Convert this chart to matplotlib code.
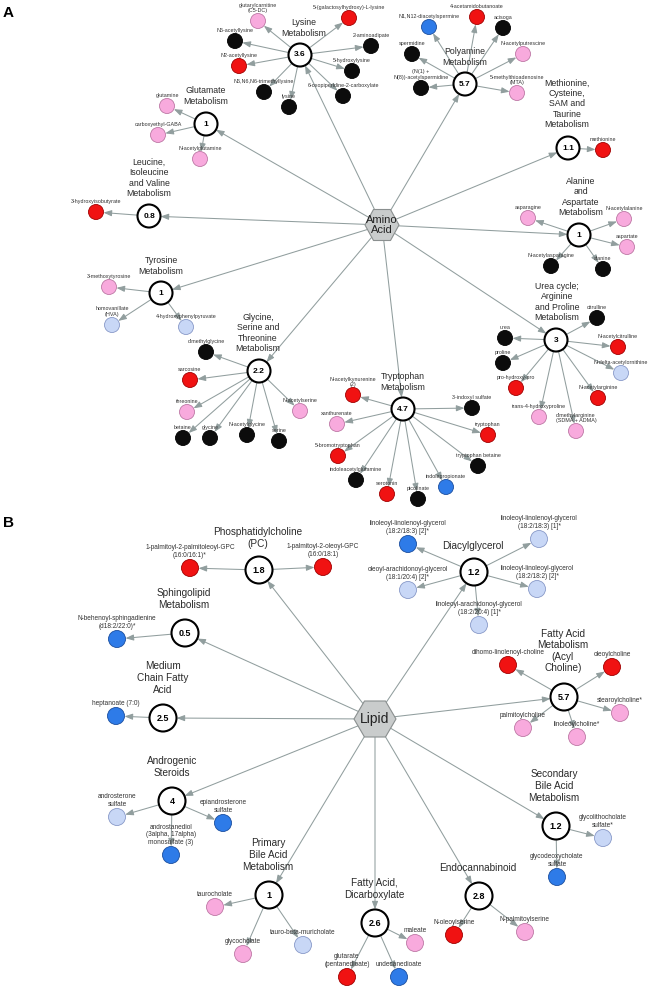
import matplotlib
matplotlib.use("Agg")
import matplotlib.pyplot as plt
from matplotlib.patches import Circle, Polygon, FancyArrowPatch

plt.rcParams["font.family"] = ["Liberation Sans", "DejaVu Sans"]

# ---------------------------------------------------------------- data ---
# Panel A: amino acid super-pathway
HUB_A = "Amino\nAcid"
PATHWAYS_A = [
    "Lysine\nMetabolism", "Polyamine\nMetabolism",
    "Methionine,\nCysteine,\nSAM and\nTaurine\nMetabolism",
    "Alanine\nand\nAspartate\nMetabolism",
    "Urea cycle;\nArginine\nand Proline\nMetabolism",
    "Tryptophan\nMetabolism",
    "Glycine,\nSerine and\nThreonine\nMetabolism",
    "Tyrosine\nMetabolism",
    "Leucine,\nIsoleucine\nand Valine\nMetabolism",
    "Glutamate\nMetabolism",
]
SCORES_A = [3.6, 5.7, 1.1, 1, 3, 4.7, 2.2, 1, 0.8, 1]
METABOLITES_A = [
    ["glutarylcarnitine\n(C5-DC)", "N6-acetyllysine", "N2-acetyllysine",
     "N6,N6,N6-trimethyllysine", "lysine", "5-(galactosylhydroxy)-L-lysine",
     "2-aminoadipate", "5-hydroxylysine", "6-oxopiperidine-2-carboxylate"],
    ["N1,N12-diacetylspermine", "4-acetamidobutanoate", "acisoga", "spermidine",
     "N-acetylputrescine", "(N(1) +\nN(8))-acetylspermidine",
     "5-methylthioadenosine\n(MTA)"],
    ["methionine"],
    ["asparagine", "N-acetylalanine", "aspartate", "N-acetylasparagine", "alanine"],
    ["citrulline", "urea", "N-acetylcitrulline", "proline", "N-delta-acetylornithine",
     "pro-hydroxy-pro", "N-acetylarginine", "trans-4-hydroxyproline",
     "dimethylarginine\n(SDMA + ADMA)"],
    ["N-acetylkynurenine\n(2)", "xanthurenate", "5-bromotryptophan",
     "indoleacetylglutamine", "serotonin", "picolinate", "indolepropionate",
     "tryptophan betaine", "tryptophan", "3-indoxyl sulfate"],
    ["dimethylglycine", "sarcosine", "threonine", "betaine", "glycine",
     "N-acetylglycine", "serine", "N-acetylserine"],
    ["3-methoxytyrosine", "homovanillate\n(HVA)", "4-hydroxyphenylpyruvate"],
    ["3-hydroxyisobutyrate"],
    ["glutamine", "carboxyethyl-GABA", "N-acetylglutamine"],
]
CLASSES_A = [
    ["pink", "black", "red", "black", "black", "red", "black", "black", "black"],
    ["blue", "red", "black", "black", "pink", "black", "pink"],
    ["red"],
    ["pink", "pink", "pink", "black", "black"],
    ["black", "black", "red", "black", "lblue", "red", "red", "pink", "pink"],
    ["red", "pink", "red", "black", "red", "black", "blue", "black", "red", "black"],
    ["black", "red", "pink", "black", "black", "black", "black", "pink"],
    ["pink", "lblue", "lblue"],
    ["red"],
    ["pink", "pink", "pink"],
]

# Panel B: lipid super-pathway
HUB_B = "Lipid"
PATHWAYS_B = [
    "Phosphatidylcholine\n(PC)", "Diacylglycerol",
    "Fatty Acid\nMetabolism\n(Acyl\nCholine)",
    "Secondary\nBile Acid\nMetabolism", "Endocannabinoid",
    "Fatty Acid,\nDicarboxylate", "Primary\nBile Acid\nMetabolism",
    "Androgenic\nSteroids", "Medium\nChain Fatty\nAcid",
    "Sphingolipid\nMetabolism",
]
SCORES_B = [1.8, 1.2, 5.7, 1.2, 2.8, 2.6, 1, 4, 2.5, 0.5]
METABOLITES_B = [
    ["1-palmitoyl-2-palmitoleoyl-GPC\n(16:0/16:1)*",
     "1-palmitoyl-2-oleoyl-GPC\n(16:0/18:1)"],
    ["linoleoyl-linolenoyl-glycerol\n(18:2/18:3) [2]*",
     "linoleoyl-linolenoyl-glycerol\n(18:2/18:3) [1]*",
     "oleoyl-arachidonoyl-glycerol\n(18:1/20:4) [2]*",
     "linoleoyl-linoleoyl-glycerol\n(18:2/18:2) [2]*",
     "linoleoyl-arachidonoyl-glycerol\n(18:2/20:4) [1]*"],
    ["dihomo-linolenoyl-choline", "oleoylcholine", "stearoylcholine*",
     "palmitoylcholine", "linoleoylcholine*"],
    ["glycolithocholate\nsulfate*", "glycodeoxycholate\nsulfate"],
    ["N-oleoylserine", "N-palmitoylserine"],
    ["maleate", "glutarate\n(pentanedioate)", "undecanedioate"],
    ["taurocholate", "glycocholate", "tauro-beta-muricholate"],
    ["androsterone\nsulfate", "epiandrosterone\nsulfate",
     "androstanediol\n(3alpha, 17alpha)\nmonosulfate (3)"],
    ["heptanoate (7:0)"],
    ["N-behenoyl-sphingadienine\n(d18:2/22:0)*"],
]
CLASSES_B = [
    ["red", "red"],
    ["blue", "lblue", "lblue", "lblue", "lblue"],
    ["red", "red", "pink", "pink", "pink"],
    ["lblue", "blue"],
    ["red", "pink"],
    ["pink", "red", "blue"],
    ["pink", "pink", "lblue"],
    ["lblue", "blue", "blue"],
    ["blue"],
    ["blue"],
]

# -------------------------------------------------------------- layout ---
HUB_XY_A = (382, 225)
PATH_XY_A = [(300, 55), (465, 84), (568, 148), (579, 235), (556, 340),
             (403, 409), (259, 371), (161, 293), (149, 216), (206, 124)]
LABEL_XY_A = [(304, 28), (465, 57), (567, 104), (581, 197), (557, 302),
              (403, 382), (258, 333), (161, 266), (149, 178), (206, 96)]
METAB_XY_A = [
    [(258, 21), (235, 41), (239, 66), (264, 92), (289, 107), (349, 18),
     (371, 46), (352, 71), (343, 96)],
    [(429, 27), (477, 17), (503, 28), (412, 54), (523, 54), (421, 88), (517, 93)],
    [(603, 150)],
    [(528, 218), (624, 219), (627, 247), (551, 266), (603, 269)],
    [(597, 318), (505, 338), (618, 347), (503, 363), (621, 373), (516, 388),
     (598, 398), (539, 417), (576, 431)],
    [(353, 395), (337, 424), (338, 456), (356, 480), (387, 494), (418, 499),
     (446, 487), (478, 466), (488, 435), (472, 408)],
    [(206, 352), (190, 380), (187, 412), (183, 438), (210, 438), (247, 435),
     (279, 441), (300, 411)],
    [(109, 287), (112, 325), (186, 327)],
    [(96, 212)],
    [(167, 106), (158, 135), (200, 159)],
]

HUB_XY_B = (375, 719)
PATH_XY_B = [(259, 570), (474, 572), (564, 697), (556, 826), (479, 896),
             (375, 923), (269, 895), (172, 801), (163, 718), (185, 633)]
LABEL_XY_B = [(258, 538), (473, 546), (563, 651), (554, 786), (478, 868),
              (374, 889), (268, 855), (172, 767), (163, 678), (184, 599)]
METAB_XY_B = [
    [(190, 568), (323, 567)],
    [(408, 544), (539, 539), (408, 590), (537, 589), (479, 625)],
    [(508, 665), (612, 667), (620, 713), (523, 728), (577, 737)],
    [(603, 838), (557, 877)],
    [(454, 935), (525, 932)],
    [(415, 943), (347, 977), (399, 977)],
    [(215, 907), (243, 954), (303, 945)],
    [(117, 817), (223, 823), (171, 855)],
    [(116, 716)],
    [(117, 639)],
]

CLASS_COLORS = {
    "red": ("#f01212", "#a00000"),
    "pink": ("#f8aadd", "#bd78a5"),
    "black": ("#0c0c0c", "#000000"),
    "blue": ("#2e7be8", "#1b4e9e"),
    "lblue": ("#c8d7f6", "#8899c8"),
}
EDGE = "#919e9e"
PX2PT = 0.72


def arrow(ax, p0, p1, shrink_a, shrink_b):
    ax.add_patch(FancyArrowPatch(
        p0, p1, arrowstyle="-|>,head_length=0.8,head_width=0.3",
        mutation_scale=6, shrinkA=shrink_a * PX2PT, shrinkB=shrink_b * PX2PT,
        color=EDGE, lw=0.75, zorder=1))


def hexagon(ax, xy, w, h, text, fs):
    cx, cy = xy
    pts = [(cx - w / 2, cy), (cx - w / 4, cy - h / 2), (cx + w / 4, cy - h / 2),
           (cx + w / 2, cy), (cx + w / 4, cy + h / 2), (cx - w / 4, cy + h / 2)]
    ax.add_patch(Polygon(pts, closed=True, fc="#c9cccc", ec="#8a8f8f",
                         lw=0.8, zorder=2))
    ax.text(cx, cy, text, ha="center", va="center", fontsize=fs,
            color="#222222", zorder=4, linespacing=1.0)


def draw_panel(ax, hub, hub_xy, hub_wh, hub_fs, pathways, scores, path_xy,
               label_xy, metabs, classes, metab_xy, pr, mr, path_fs, num_fs,
               met_fs):
    hexagon(ax, hub_xy, hub_wh[0], hub_wh[1], hub, hub_fs)
    for name, score, pxy, lxy, mets, cls, mxys in zip(
            pathways, scores, path_xy, label_xy, metabs, classes, metab_xy):
        arrow(ax, hub_xy, pxy, 0, pr)
        ax.add_patch(Circle(pxy, pr, fc="white", ec="black", lw=1.5, zorder=3))
        ax.text(pxy[0], pxy[1], f"{score:g}", ha="center", va="center",
                fontsize=num_fs, fontweight="bold", zorder=4)
        ax.text(lxy[0], lxy[1], name, ha="center", va="center",
                fontsize=path_fs, color="#2a2a2a", zorder=4)
        for m, c, mxy in zip(mets, cls, mxys):
            arrow(ax, pxy, mxy, pr, mr)
            fc, ec = CLASS_COLORS[c]
            ax.add_patch(Circle(mxy, mr, fc=fc, ec=ec, lw=0.6, zorder=3))
            ax.text(mxy[0], mxy[1] - mr - 0.8, m, ha="center", va="bottom",
                    fontsize=met_fs, color="#333333", zorder=4,
                    linespacing=1.05)


fig = plt.figure(figsize=(6.51, 9.88), dpi=100)
ax = fig.add_axes([0, 0, 1, 1])
ax.set_xlim(0, 651)
ax.set_ylim(988, 0)
ax.set_aspect("equal")
ax.axis("off")

draw_panel(ax, HUB_A, HUB_XY_A, (34, 31), 8, PATHWAYS_A, SCORES_A, PATH_XY_A,
           LABEL_XY_A, METABOLITES_A, CLASSES_A, METAB_XY_A,
           pr=11.5, mr=7.5, path_fs=6.3, num_fs=6, met_fs=3.9)
draw_panel(ax, HUB_B, HUB_XY_B, (42, 36), 10, PATHWAYS_B, SCORES_B, PATH_XY_B,
           LABEL_XY_B, METABOLITES_B, CLASSES_B, METAB_XY_B,
           pr=13.5, mr=8.5, path_fs=7.2, num_fs=6.5, met_fs=4.7)

ax.text(8, 13, "A", ha="center", va="center", fontsize=11, fontweight="bold")
ax.text(8, 523, "B", ha="center", va="center", fontsize=11, fontweight="bold")

fig.savefig("out.png", dpi=100)
